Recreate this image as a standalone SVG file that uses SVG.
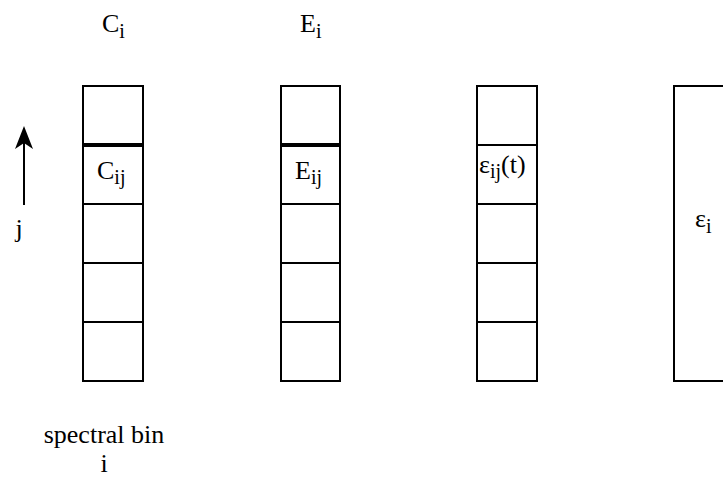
<svg xmlns="http://www.w3.org/2000/svg" width="723" height="478" viewBox="0 0 723 478">
<style>
text{font-family:'Liberation Serif','Times New Roman','DejaVu Serif',serif;font-size:26px;fill:#000}
.s{font-size:20px}
.box{fill:#fff;stroke:#000;stroke-width:2}
.ln{stroke:#000;stroke-width:2}
.thick{stroke:#000;stroke-width:4}
</style>
<rect width="723" height="478" fill="#fff"/>
<g id="label-Ci"><text x="102" y="32">C<tspan class="s" dy="6">i</tspan></text></g>
<g id="label-Ei"><text x="300" y="32">E<tspan class="s" dy="6">i</tspan></text></g>
<g id="col-C">
<rect class="box" x="83" y="86" width="60" height="295"/>
<line class="thick" x1="83" y1="145" x2="143" y2="145"/>
<line class="ln" x1="83" y1="204" x2="143" y2="204"/>
<line class="ln" x1="83" y1="263" x2="143" y2="263"/>
<line class="ln" x1="83" y1="322" x2="143" y2="322"/>
<text x="97" y="179">C<tspan class="s" dy="5">ij</tspan></text>
</g>
<g id="col-E">
<rect class="box" x="281" y="86" width="59" height="295"/>
<line class="thick" x1="281" y1="145" x2="340" y2="145"/>
<line class="ln" x1="281" y1="204" x2="340" y2="204"/>
<line class="ln" x1="281" y1="263" x2="340" y2="263"/>
<line class="ln" x1="281" y1="322" x2="340" y2="322"/>
<text x="295" y="179">E<tspan class="s" dy="5">ij</tspan></text>
</g>
<g id="col-eps">
<rect class="box" x="477" y="86" width="60" height="295"/>
<line class="ln" x1="477" y1="145" x2="537" y2="145"/>
<line class="ln" x1="477" y1="204" x2="537" y2="204"/>
<line class="ln" x1="477" y1="263" x2="537" y2="263"/>
<line class="ln" x1="477" y1="322" x2="537" y2="322"/>
<text x="479" y="173">ε<tspan class="s" dy="5">ij</tspan><tspan dy="-5">(t)</tspan></text>
</g>
<g id="col-epsi">
<rect class="box" x="674" y="86" width="60" height="295"/>
<text x="695" y="227">ε<tspan class="s" dy="6">i</tspan></text>
</g>
<g id="connectors">
<line class="ln" x1="24" y1="140" x2="24" y2="205"/>
<path d="M24,126 L33,149 L24,143 L15,149 Z" fill="#000"/>
</g>
<g id="label-j"><text x="19" y="237" text-anchor="middle">j</text></g>
<g id="label-bin">
<text x="104" y="443" text-anchor="middle">spectral bin</text>
<text x="104" y="472" text-anchor="middle">i</text>
</g>
</svg>
